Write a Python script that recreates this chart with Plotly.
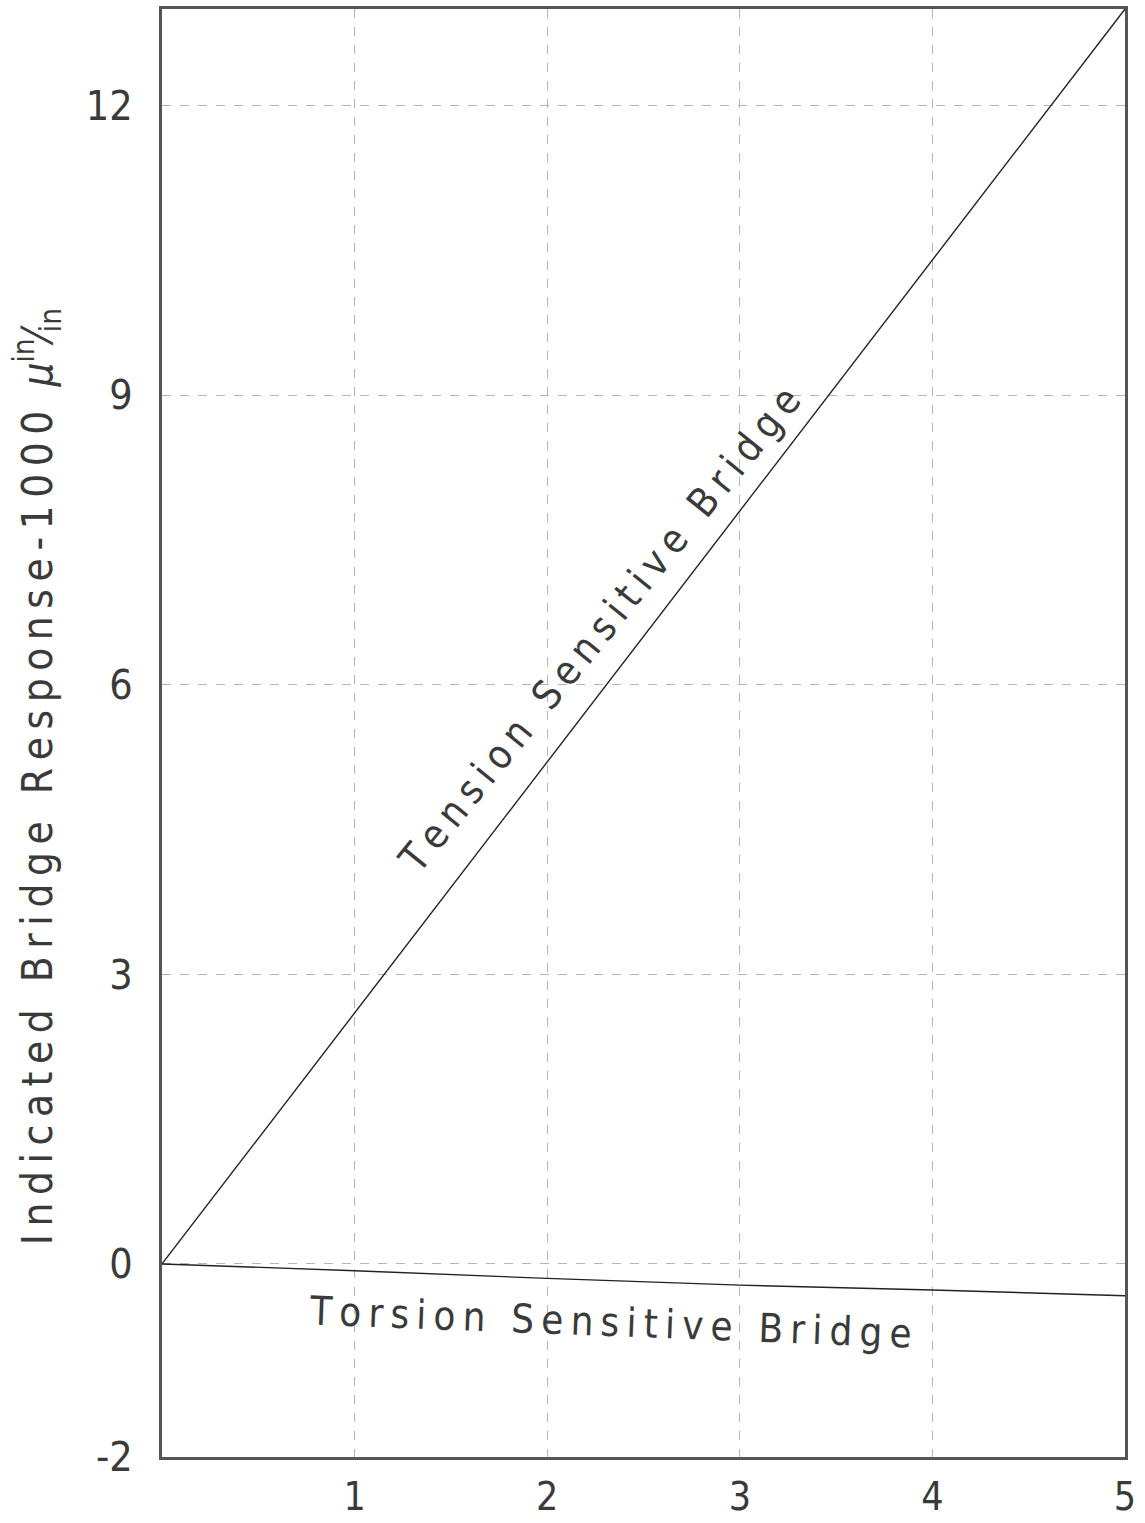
import plotly.graph_objects as go

# Data
x_vals = [0, 1, 2, 3, 4, 5]
tension = [0, 2.6, 5.2, 7.8, 10.4, 13.0]
torsion = [0, -0.07, -0.15, -0.22, -0.27, -0.33]
x_ticks = [1, 2, 3, 4, 5]
x_ticktext = ["1", "2", "3", "4", "5"]
y_ticks = [-2, 0, 3, 6, 9, 12]
y_ticktext = ["-2", "0", "3", "6", "9", "12"]

FONT = "DejaVu Sans Condensed, DejaVu Sans, sans-serif"
TXT = "#3a3a3a"
SP = "\u2009"


def spaced(s, sep=SP):
    return sep.join(list(s))


fig = go.Figure()
fig.add_trace(go.Scatter(x=x_vals, y=tension, mode="lines",
                         line=dict(color="#222222", width=1.4), showlegend=False))
fig.add_trace(go.Scatter(x=x_vals, y=torsion, mode="lines",
                         line=dict(color="#222222", width=1.4), showlegend=False))

fig.update_layout(
    width=1145, height=1523,
    margin=dict(l=162, r=20, t=9, b=66),
    paper_bgcolor="white", plot_bgcolor="white",
    font=dict(family=FONT, color=TXT),
    showlegend=False,
)
fig.update_xaxes(
    range=[0, 5], tickvals=x_ticks, ticktext=x_ticktext,
    showgrid=True, gridcolor="#b5b5b5", griddash="dash", gridwidth=1,
    showline=True, linecolor="#555555", linewidth=3, mirror=True,
    ticks="", ticklabelstandoff=3, tickfont=dict(size=39, color=TXT),
    zeroline=False, automargin=False,
)
fig.update_yaxes(
    range=[-2, 13], tickvals=y_ticks, ticktext=y_ticktext,
    showgrid=True, gridcolor="#b5b5b5", griddash="dash", gridwidth=1,
    showline=True, linecolor="#555555", linewidth=3, mirror=True,
    ticks="", ticklabelstandoff=18, tickfont=dict(size=41, color=TXT),
    zeroline=False, automargin=False,
)

# Y-axis title (rotated)
fig.add_annotation(
    xref="paper", yref="paper", x=-0.129, y=0.47,
    text=spaced("Indicated Bridge Response-1000") + "  <i>μ</i><sup>in</sup>⁄<sub>in</sub>",
    textangle=-90, showarrow=False, font=dict(size=42, color=TXT, family=FONT),
    xanchor="center", yanchor="middle",
)

# Line labels
fig.add_annotation(
    x=2.27, y=6.57, xref="x", yref="y",
    text=spaced("Tension Sensitive Bridge"),
    textangle=-51, showarrow=False, font=dict(size=40, color=TXT, family=FONT),
)
fig.add_annotation(
    x=2.33, y=-0.60, xref="x", yref="y",
    text=spaced("Torsion Sensitive Bridge"),
    textangle=2.2, showarrow=False, font=dict(size=40, color=TXT, family=FONT),
)

fig.write_html("out.html")
